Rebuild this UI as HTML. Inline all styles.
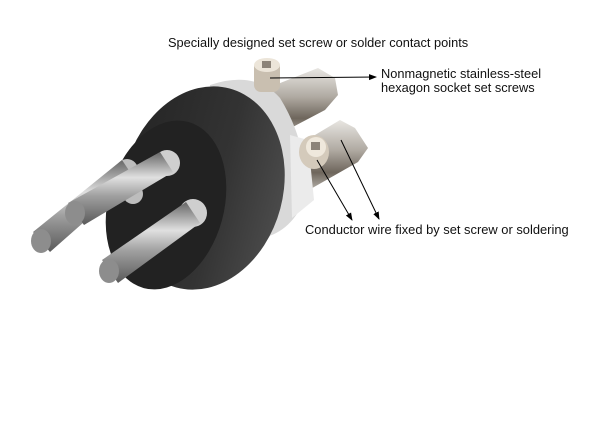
<!DOCTYPE html>
<html><head><meta charset="utf-8"><style>
html,body{margin:0;padding:0;background:#fff;width:600px;height:424px;overflow:hidden}
svg{display:block}
text{font-family:"Liberation Sans",Arial,sans-serif;font-size:12.8px;fill:#111}
</style></head><body>
<svg width="600" height="424" viewBox="0 0 600 424">
<defs>
<linearGradient id="metal" x1="0" y1="0" x2="0" y2="1">
<stop offset="0" stop-color="#e8e6e2"/><stop offset=".4" stop-color="#b0aaa2"/><stop offset=".7" stop-color="#6e665c"/><stop offset="1" stop-color="#c9c5bf"/></linearGradient>
<linearGradient id="pin" x1="0" y1="0" x2="0" y2="1">
<stop offset="0" stop-color="#666"/><stop offset=".35" stop-color="#e0e0e0"/><stop offset=".6" stop-color="#a0a0a0"/><stop offset="1" stop-color="#5a5a5a"/></linearGradient>
<linearGradient id="body" x1="0" y1="0" x2="1" y2="0">
<stop offset="0" stop-color="#262626"/><stop offset=".6" stop-color="#333"/><stop offset="1" stop-color="#4a4a4a"/></linearGradient>
<marker id="ah" markerWidth="8" markerHeight="8" refX="7" refY="4" orient="auto"><path d="M0,1 L8,4 L0,7 Z" fill="#000"/></marker>
</defs>
<text x="168" y="47">Specially designed set screw or solder contact points</text>
<text x="381" y="78">Nonmagnetic stainless-steel</text>
<text x="381" y="92">hexagon socket set screws</text>
<text x="305" y="234" style="font-size:12.9px">Conductor wire fixed by set screw or soldering</text>

<path d="M250,95 L318,68 L335,78 L338,95 L325,110 L268,140 Z" fill="url(#metal)"/>
<path d="M290,150 L340,120 L355,128 L368,148 L358,162 L300,195 Z" fill="url(#metal)"/>
<path d="M210,85 Q255,70 280,98 Q312,150 302,205 Q285,240 245,240 L200,225 Z" fill="#d9d9d9"/>
<path d="M290,135 L308,140 L314,200 L292,218 Z" fill="#ebebeb"/>
<rect x="254" y="60" width="26" height="32" rx="7" fill="#c9bfb0"/>
<ellipse cx="267" cy="65" rx="13" ry="7" fill="#ece5d9"/>
<rect x="262" y="61" width="9" height="7" fill="#8c8378"/>
<ellipse cx="314" cy="152" rx="15" ry="17" fill="#d4cabb"/>
<ellipse cx="316" cy="147" rx="10" ry="10" fill="#efe8dc"/>
<rect x="311" y="142" width="9" height="8" fill="#8c8378"/>
<ellipse cx="203" cy="188" rx="80" ry="103" transform="rotate(15 203 188)" fill="url(#body)"/>
<ellipse cx="166" cy="205" rx="58" ry="86" transform="rotate(15 166 205)" fill="#222"/>
<circle cx="167" cy="163" r="13" fill="#cfcfcf"/>
<circle cx="127" cy="170" r="11" fill="#bdbdbd"/>
<circle cx="133" cy="194" r="10" fill="#bdbdbd"/>
<circle cx="193" cy="213" r="14" fill="#cfcfcf"/>
<path d="M122,160 L134,178 L50,252 L33,232 Z" fill="url(#pin)"/>
<ellipse cx="41" cy="241" rx="10" ry="12" fill="#8d8d8d"/>
<path d="M160,152 L173,172 L84,225 L68,203 Z" fill="url(#pin)"/>
<ellipse cx="75" cy="213" rx="10" ry="12" fill="#8d8d8d"/>
<path d="M186,202 L200,223 L118,283 L102,260 Z" fill="url(#pin)"/>
<ellipse cx="109" cy="271" rx="10" ry="12" fill="#8d8d8d"/>
<line x1="270" y1="78" x2="376" y2="77" stroke="#000" stroke-width="1" marker-end="url(#ah)"/>
<line x1="317" y1="160" x2="352" y2="220" stroke="#000" stroke-width="1" marker-end="url(#ah)"/>
<line x1="341" y1="140" x2="379" y2="219" stroke="#000" stroke-width="1" marker-end="url(#ah)"/>
</svg>
</body></html>
